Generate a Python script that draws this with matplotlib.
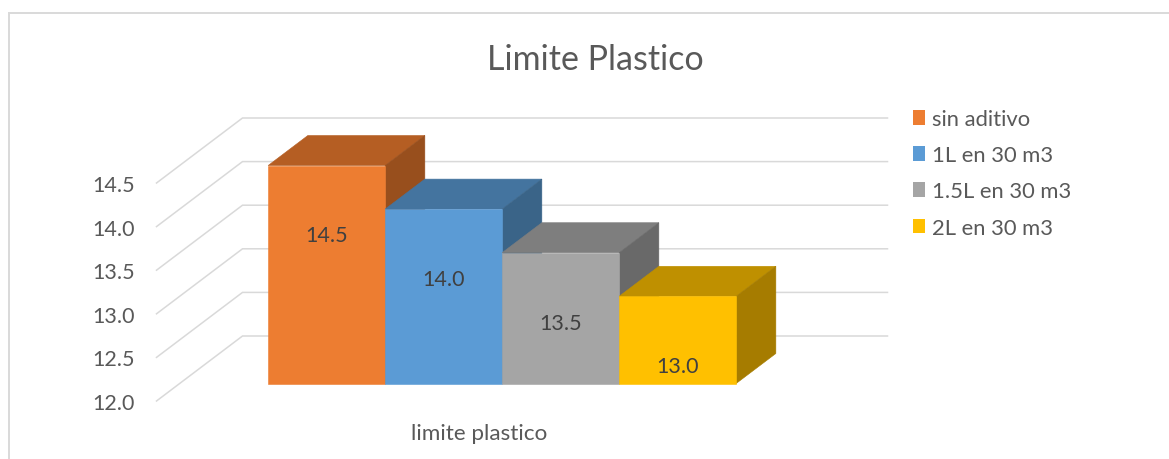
import matplotlib
matplotlib.use("Agg")
import matplotlib.pyplot as plt
from matplotlib.patches import Patch, Polygon, Rectangle

plt.rcParams["font.family"] = ["Lato", "DejaVu Sans"]

# Chart content
title = "Limite Plastico"
group_label = "limite plastico"
series_names = ["sin aditivo", "1L en 30 m3", "1.5L en 30 m3", "2L en 30 m3"]
series_values = [14.5, 14.0, 13.5, 13.0]
value_ticks = [12.0, 12.5, 13.0, 13.5, 14.0, 14.5]

# Face colours per series: front, top, side
front_colors = ["#ED7D31", "#5B9BD5", "#A5A5A5", "#FFC000"]
top_colors = ["#B55E23", "#44749F", "#7E7E7E", "#BF9000"]
side_colors = ["#984F1D", "#3A6488", "#696969", "#A67C00"]

GRID = "#D9D9D9"
TEXT = "#595959"
LABEL = "#404040"

W, H = 1169, 460
fig = plt.figure(figsize=(W / 100, H / 100), dpi=100, facecolor="white")

# Chart frame, kept behind the axes
fig.add_artist(Rectangle((9 / W, -0.02), 1.1, (H - 14) / H + 0.02, transform=fig.transFigure,
                         facecolor="white", edgecolor=GRID, linewidth=1.4, zorder=-1))

# The axes box is the front edge of the floor; depth is an oblique shift in data units
left, right, bottom, top = 156.5, 801.5, 402, 184
ax = fig.add_axes([left / W, (H - bottom) / H, (right - left) / W, (bottom - top) / H])
bar_px = 117
half_span = (right - left) / 2 / bar_px
center = (len(series_values) - 1) / 2
ax.set_xlim(center - half_span, center + half_span)
ax.set_ylim(value_ticks[0], value_ticks[-1])
ax.patch.set_visible(False)
for spine in ax.spines.values():
    spine.set_visible(False)

DEPTH_X = 86 / bar_px
DEPTH_Y = 65 / ((bottom - top) / (value_ticks[-1] - value_ticks[0]))
BAR_NEAR, BAR_FAR = 17.5 / 65, 47.5 / 65


def project(x, v, depth):
    return (x + DEPTH_X * depth, v + DEPTH_Y * depth)


# Floor-to-wall gridlines
x0, x1 = ax.get_xlim()
for v in value_ticks:
    pts = [project(x0, v, 0), project(x0, v, 1), project(x1, v, 1)]
    ax.plot(*zip(*pts), color=GRID, lw=1.1, clip_on=False, zorder=1, solid_joinstyle="miter")

# Bars, painted left to right so each one covers the side of its neighbour
base = value_ticks[0]
for i, v in enumerate(series_values):
    xl, xr = i - 0.5, i + 0.5
    z = 2 + i
    faces = [
        ([project(xl, v, BAR_NEAR), project(xr, v, BAR_NEAR),
          project(xr, v, BAR_FAR), project(xl, v, BAR_FAR)], top_colors[i]),
        ([project(xr, base, BAR_NEAR), project(xr, v, BAR_NEAR),
          project(xr, v, BAR_FAR), project(xr, base, BAR_FAR)], side_colors[i]),
        ([project(xl, base, BAR_NEAR), project(xr, base, BAR_NEAR),
          project(xr, v, BAR_NEAR), project(xl, v, BAR_NEAR)], front_colors[i]),
    ]
    for poly, color in faces:
        ax.add_patch(Polygon(poly, closed=True, facecolor=color, edgecolor=color,
                             lw=0.4, clip_on=False, zorder=z))
    cx, cy = project(i, v, BAR_NEAR)
    ax.annotate(f"{v:.1f}", (cx, cy), xytext=(0, -70 * 0.72), textcoords="offset points",
                ha="center", va="center", fontsize=15.5, color=LABEL, zorder=10,
                annotation_clip=False)

# Axis labels
ax.set_yticks(value_ticks, [f"{v:.1f}" for v in value_ticks])
ax.set_xticks([center], [group_label])
ax.tick_params(axis="y", length=0, pad=15.5, labelsize=15.5, labelcolor=TEXT)
ax.tick_params(axis="x", length=0, pad=16, labelsize=16.2, labelcolor=TEXT)

# Title
fig.text(595 / W, (H - 60) / H, title, ha="center", va="center", fontsize=24.5, color=TEXT)

# Legend
handles = [Patch(facecolor=c, edgecolor="none") for c in front_colors]
fig.legend(handles, series_names, loc="upper left", bbox_to_anchor=(909 / W, (H - 105.5) / H),
           frameon=False, fontsize=15.8, labelcolor=TEXT, handlelength=0.55, handleheight=0.65,
           handletextpad=0.28, labelspacing=0.74, borderpad=0.2, borderaxespad=0)

fig.savefig("out.png", dpi=100, facecolor="white")
